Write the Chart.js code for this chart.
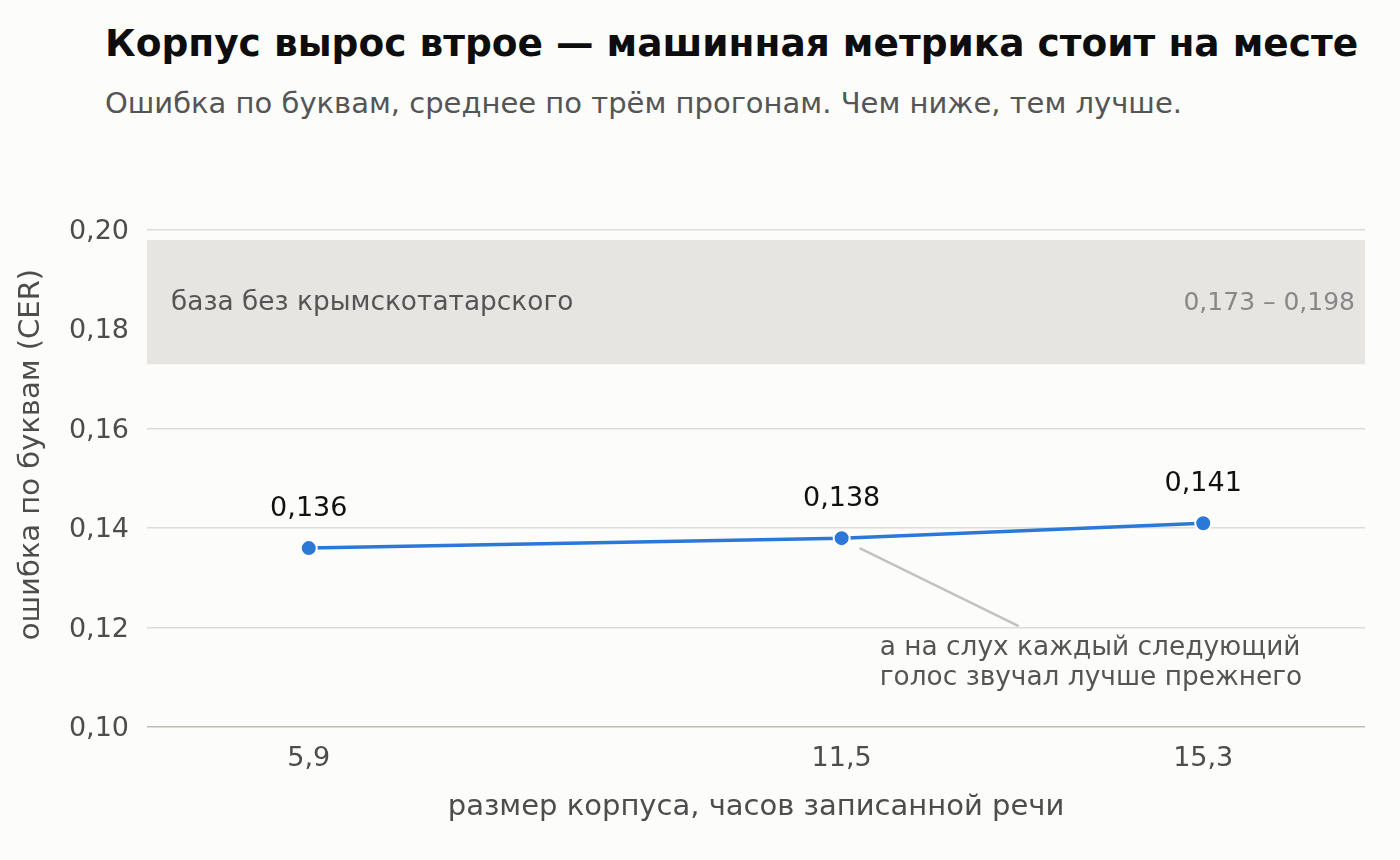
<!DOCTYPE html>
<html lang="ru">
<head>
<meta charset="utf-8">
<title>Корпус вырос втрое</title>
<script src="https://cdn.jsdelivr.net/npm/chart.js@4.4.1/dist/chart.umd.min.js"></script>
<style>
  html, body { margin: 0; padding: 0; background: #fcfcfb; }
  #wrap { position: relative; width: 1400px; height: 860px; overflow: hidden; font-family: 'DejaVu Sans', sans-serif; }
  #chart { position: absolute; left: 0; top: 0; }
  .title { position: absolute; left: 105px; top: 25px; font-size: 37.5px; line-height: 1; font-weight: bold; color: #0d0d0d; white-space: nowrap; }
  .subtitle { position: absolute; left: 105px; top: 89px; font-size: 29px; line-height: 1; color: #555; white-space: nowrap; }
</style>
</head>
<body>
<div id="wrap">
  <div class="title">Корпус вырос втрое — машинная метрика стоит на месте</div>
  <div class="subtitle">Ошибка по буквам, среднее по трём прогонам. Чем ниже, тем лучше.</div>
  <canvas id="chart" width="1400" height="860"></canvas>
</div>
<script>
/* data */
const corpusHours = [5.9, 11.5, 15.3];
const cerValues = [0.136, 0.138, 0.141];
const yTickValues = [0.10, 0.12, 0.14, 0.16, 0.18, 0.20];
const baselineRange = [0.173, 0.198];
const baselineLabel = 'база без крымскотатарского';
const noteLines = ['а на слух каждый следующий', 'голос звучал лучше прежнего'];
const noteAnchor = [13.36, 0.1203];   // where the leader line ends (x, y)
const noteTextAt = [11.9, 0.1159];    // first line of the note (x, y)

const FONT = "'DejaVu Sans', sans-serif";
const BLUE = '#2b78d6';

const fmt = (v, digits) => v.toFixed(digits).replace('.', ',');

// grey band with the baseline range
const bandPlugin = {
  id: 'band',
  beforeDatasetsDraw(chart) {
    const { ctx, chartArea, scales: { y } } = chart;
    const top = y.getPixelForValue(baselineRange[1]);
    const bottom = y.getPixelForValue(baselineRange[0]);
    ctx.save();
    ctx.fillStyle = '#e6e5e1';
    ctx.fillRect(chartArea.left, top, chartArea.right - chartArea.left, bottom - top);
    const mid = (top + bottom) / 2 + 1;
    ctx.textBaseline = 'middle';
    ctx.font = '26.4px ' + FONT;
    ctx.fillStyle = '#555';
    ctx.textAlign = 'left';
    ctx.fillText(baselineLabel, chartArea.left + 24, mid);
    ctx.font = '25px ' + FONT;
    ctx.fillStyle = '#888';
    ctx.textAlign = 'right';
    ctx.fillText(fmt(baselineRange[0], 3) + ' – ' + fmt(baselineRange[1], 3), chartArea.right - 10, mid);
    ctx.restore();
  }
};

// value labels, leader line and note, y-axis title
const labelsPlugin = {
  id: 'labels',
  afterDatasetsDraw(chart) {
    const { ctx, scales: { x, y } } = chart;
    const pts = chart.getDatasetMeta(0).data;
    ctx.save();
    ctx.font = '27px ' + FONT;
    ctx.fillStyle = '#111';
    ctx.textAlign = 'center';
    ctx.textBaseline = 'middle';
    pts.forEach((p, i) => ctx.fillText(fmt(cerValues[i], 3), p.x, p.y - 39));

    // leader from the middle point
    const p = pts[1];
    ctx.strokeStyle = '#c2c2be';
    ctx.lineWidth = 2.5;
    ctx.beginPath();
    ctx.moveTo(p.x + 18, p.y + 10);
    ctx.lineTo(x.getPixelForValue(noteAnchor[0]), y.getPixelForValue(noteAnchor[1]));
    ctx.stroke();

    ctx.font = '26.4px ' + FONT;
    ctx.fillStyle = '#555';
    ctx.textAlign = 'left';
    const tx = x.getPixelForValue(noteTextAt[0]);
    const ty = y.getPixelForValue(noteTextAt[1]);
    noteLines.forEach((line, i) => ctx.fillText(line, tx, ty + i * 30));

    // y title, centred a bit above the plot middle like the original
    ctx.save();
    ctx.translate(31, (y.top + y.bottom) / 2 - 24);
    ctx.rotate(-Math.PI / 2);
    ctx.font = '29px ' + FONT;
    ctx.fillStyle = '#4d4d4d';
    ctx.textAlign = 'center';
    ctx.fillText('ошибка по буквам (CER)', 0, 0);
    ctx.restore();
    ctx.restore();
  }
};

new Chart(document.getElementById('chart'), {
  type: 'line',
  data: {
    datasets: [{
      data: corpusHours.map((h, i) => ({ x: h, y: cerValues[i] })),
      borderColor: BLUE,
      borderWidth: 3.5,
      pointRadius: 8,
      pointHoverRadius: 8,
      pointBackgroundColor: BLUE,
      pointBorderColor: '#ffffff',
      pointBorderWidth: 2,
      tension: 0,
    }]
  },
  options: {
    responsive: false,
    animation: false,
    devicePixelRatio: 1,
    layout: { padding: { top: 230, right: 35, bottom: 0, left: 0 } },
    plugins: {
      legend: { display: false },
      tooltip: { enabled: false }
    },
    scales: {
      x: {
        type: 'linear',
        min: 4.2,
        max: 17.0,
        afterBuildTicks: s => { s.ticks = corpusHours.map(v => ({ value: v })); },
        afterFit: s => { s.height = 133; },
        grid: { display: false, drawTicks: false },
        border: { display: false },
        ticks: {
          padding: 16,
          color: '#4d4d4d',
          font: { family: FONT, size: 27 },
          callback: v => fmt(v, 1)
        },
        title: {
          display: true,
          text: 'размер корпуса, часов записанной речи',
          color: '#4d4d4d',
          font: { family: FONT, size: 29 },
          padding: { top: 0, bottom: 35 }
        }
      },
      y: {
        min: 0.10,
        max: 0.20,
        afterBuildTicks: s => { s.ticks = yTickValues.map(v => ({ value: v })); },
        afterFit: s => { s.width = 147; },
        grid: {
          drawTicks: false,
          lineWidth: 1.5,
          color: c => (c.tick && Math.abs(c.tick.value - 0.10) < 1e-9) ? '#bdbdb6' : '#dedcd6'
        },
        border: { display: false },
        ticks: {
          padding: 18,
          labelOffset: 2,
          color: '#4d4d4d',
          font: { family: FONT, size: 27 },
          callback: v => fmt(v, 2)
        }
      }
    }
  },
  plugins: [bandPlugin, labelsPlugin]
});
</script>
</body>
</html>
